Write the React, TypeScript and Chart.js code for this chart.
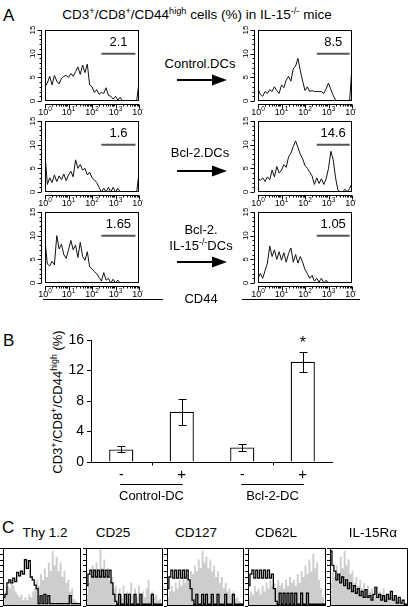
import React, { useEffect, useRef } from 'react';
import { Chart, registerables } from 'chart.js';

Chart.register(...registerables);

const FONT = '"Liberation Sans", Arial, Helvetica, sans-serif';

// ---------- Panel A data (CD44 histograms, x in log10 decades) ----------
const BIN_DECADES = [0, 0.1, 0.2, 0.3, 0.4, 0.5, 0.6, 0.7, 0.8, 0.9, 1, 1.1, 1.2, 1.3, 1.4, 1.5, 1.6, 1.7, 1.8, 1.9, 2, 2.1, 2.2, 2.3, 2.4, 2.5, 2.6, 2.7, 2.8, 2.9, 3, 3.1, 3.2, 3.3, 3.4, 3.5, 3.6, 3.7, 3.8, 3.9, 4];
const A_CONTROL_PRE = [3, 3.8, 5.2, 3.4, 5.4, 4.2, 3.6, 4.8, 5.2, 5.4, 5.0, 5.8, 5.2, 6.2, 7.2, 5.6, 7.6, 6.0, 7.8, 3.4, 3.0, 1.8, 2.4, 1.4, 1.8, 1.6, 2.8, 1.2, 1.0, 0.4, 1.0, 0.2, 0.8, 0, 0, 0, 0, 0, 0, 0, 4];
const A_CONTROL_POST = [2.6, 1.4, 1.0, 2.0, 1.6, 2.4, 2.0, 3.0, 2.2, 1.6, 3.4, 2.8, 4.4, 5.2, 4.2, 6.8, 7.4, 9.0, 6.4, 4.2, 2.2, 3.0, 2.0, 2.2, 2.0, 2.0, 2.0, 2.0, 1.6, 2.6, 3.8, 2.4, 1.2, 0.2, 0, 0, 0, 0, 0, 0, 7.4];
const A_BCL2_PRE = [8, 1.6, 3.0, 2.0, 3.6, 2.2, 3.4, 2.6, 3.8, 2.4, 3.6, 4.4, 3.2, 6.8, 5.0, 5.8, 4.6, 5.0, 3.6, 4.2, 3.0, 2.6, 2.0, 1.0, 0, 0.8, 0, 1.0, 0, 1.0, 0, 0.8, 0, 0, 0, 0, 0, 0, 0, 0, 4];
const A_BCL2_POST = [3.0, 2.4, 3.0, 2.2, 3.2, 2.6, 4.6, 3.2, 5.4, 4.0, 4.6, 5.8, 5.2, 7.4, 8.2, 9.6, 10.8, 9.4, 8.0, 7.0, 5.6, 5.0, 4.2, 3.4, 1.6, 3.0, 1.8, 2.8, 1.6, 2.8, 5.0, 8.6, 6.8, 3.0, 0.4, 0, 0, 0.6, 0, 0.8, 1.8];
const A_IL15KO_PRE = [9, 4.0, 3.6, 4.6, 3.8, 10, 7.2, 8.2, 6.0, 5.2, 7.0, 9.0, 7.0, 8.0, 5.4, 8.6, 5.6, 4.8, 6.6, 3.4, 3.0, 2.4, 2.0, 1.2, 0.4, 2.2, 0.6, 1.0, 0, 0.8, 0, 0.6, 0, 0, 0, 0, 0, 0, 0, 0, 0];
const A_IL15KO_POST = [1.0, 2.0, 1.0, 2.6, 4.2, 7.8, 5.6, 7.0, 5.0, 6.6, 4.8, 6.4, 4.4, 6.2, 7.4, 4.4, 6.0, 4.2, 5.6, 4.4, 2.8, 2.0, 1.0, 1.6, 0.4, 1.0, 0.2, 1.0, 0, 0.6, 0, 0, 0, 0, 0, 0, 0, 0, 0, 0, 0];
const A_GATE_LABELS = ['2.1', '8.5', '1.6', '14.6', '1.65', '1.05'];
const A_GATE_PRE = [2.4, 3.85];
const A_GATE_POST = [2.5, 3.9];
const A_GATE_Y = 10;
const A_Y_TICKS = [0, 5, 10, 15];
const A_X_DECADES = [0, 1, 2, 3, 4];
const A_TREATMENTS = ['Control.DCs', 'Bcl-2.DCs', 'Bcl-2.'];

// ---------- Panel B data ----------
const B_GROUPS = ['Control-DC', 'Bcl-2-DC'];
const B_CATEGORIES = ['-', '+', '-', '+'];
const B_MEANS = [1.65, 6.6, 1.9, 13.15];
const B_ERRORS = [0.4, 1.7, 0.48, 1.3];
const B_SIGNIFICANT = [false, false, false, true];
const B_Y_MAX = 16;
const B_Y_STEP = 4;

// ---------- Panel C data (relative counts, % of frame height) ----------
const C_MARKERS = ['Thy 1.2', 'CD25', 'CD127', 'CD62L', 'IL-15R\u03b1'];
const C_THY_BLACK = [15, 20, 40, 45, 40, 48, 42, 58, 52, 60, 55, 80, 65, 78, 50, 45, 36, 30, 4, 18, 4, 20, 4, 18, 4, 4, 4, 4, 4, 4, 4, 4, 4, 4, 18, 4, 4, 4, 4, 4, 4];
const C_THY_GRAY = [15, 25, 35, 30, 40, 35, 25, 20, 15, 20, 10, 15, 10, 20, 15, 25, 30, 45, 35, 55, 45, 65, 50, 75, 60, 95, 70, 85, 60, 75, 50, 60, 40, 45, 25, 30, 12, 8, 4, 2, 0];
const C_CD25_BLACK = [35, 55, 62, 50, 62, 50, 62, 50, 62, 50, 62, 50, 62, 40, 20, 8, 3, 20, 3, 3, 20, 3, 20, 3, 3, 20, 3, 3, 20, 3, 3, 3, 3, 3, 20, 3, 3, 3, 3, 3, 3];
const C_CD25_GRAY = [20, 40, 55, 70, 60, 75, 60, 100, 65, 80, 55, 65, 45, 50, 30, 35, 20, 30, 15, 35, 20, 25, 15, 40, 20, 30, 15, 35, 20, 25, 15, 30, 45, 20, 25, 15, 20, 10, 12, 5, 0];
const C_CD127_BLACK = [30, 50, 62, 48, 62, 48, 62, 48, 62, 48, 62, 45, 30, 10, 3, 20, 3, 3, 20, 3, 20, 3, 3, 20, 3, 3, 20, 3, 3, 3, 20, 3, 3, 3, 20, 3, 3, 3, 3, 3, 3];
const C_CD127_GRAY = [15, 25, 35, 25, 40, 30, 45, 35, 50, 40, 55, 45, 60, 55, 70, 60, 80, 65, 95, 75, 85, 65, 80, 60, 70, 50, 60, 40, 50, 30, 40, 25, 30, 20, 25, 12, 15, 8, 5, 2, 0];
const C_CD62L_BLACK = [35, 55, 62, 48, 62, 48, 62, 48, 62, 48, 62, 48, 55, 30, 8, 3, 22, 3, 22, 3, 22, 3, 22, 3, 22, 3, 3, 22, 3, 3, 22, 3, 3, 3, 3, 3, 3, 3, 3, 3, 3];
const C_CD62L_GRAY = [15, 25, 20, 35, 25, 30, 20, 35, 25, 40, 30, 45, 35, 40, 30, 45, 35, 40, 30, 45, 35, 50, 40, 45, 35, 55, 40, 60, 50, 70, 55, 80, 60, 90, 65, 75, 45, 30, 15, 5, 0];
const C_IL15RA_BLACK = [95, 70, 60, 45, 55, 40, 50, 35, 45, 30, 40, 25, 35, 22, 30, 18, 25, 15, 28, 15, 18, 10, 20, 32, 15, 20, 10, 18, 8, 20, 12, 25, 10, 18, 5, 15, 5, 10, 3, 3, 3];
const C_IL15RA_GRAY = [40, 60, 50, 70, 55, 85, 65, 95, 70, 80, 55, 60, 40, 50, 35, 45, 30, 40, 25, 35, 25, 30, 20, 30, 15, 25, 20, 30, 15, 20, 15, 20, 10, 15, 8, 10, 5, 5, 3, 2, 0];
const C_BLACK = [C_THY_BLACK, C_CD25_BLACK, C_CD127_BLACK, C_CD62L_BLACK, C_IL15RA_BLACK];
const C_GRAY = [C_THY_GRAY, C_CD25_GRAY, C_CD127_GRAY, C_CD62L_GRAY, C_IL15RA_GRAY];

// ---------- layout ----------
const A_ROW_TOPS = [30, 121, 212];
const A_BOX_H = 71;
const A_BOX_W = 94;
const A_COL_LEFT = [45, 258];
const C_BOXES = [[3, 81], [86, 163], [167, 244], [248, 326], [330, 408]];
const C_TOP = 548;
const C_BOTTOM = 606;

// ---------- plugins ----------
const facsPlugin = {
  id: 'facs',
  afterDraw(chart: any, _a: any, opts: any) {
    const { ctx, chartArea: a } = chart;
    const xs = chart.scales.x;
    const ys = chart.scales.y;
    ctx.save();
    ctx.strokeStyle = '#000';
    ctx.fillStyle = '#000';
    ctx.lineWidth = 1;
    const L = Math.round(a.left), T = Math.round(a.top), R = Math.round(a.right), B = Math.round(a.bottom);
    ctx.strokeRect(L + 0.5, T + 0.5, R - L - 1, B - T - 1);
    // y axis
    const ax = L - 3.5;
    ctx.beginPath();
    ctx.moveTo(ax, ys.getPixelForValue(ys.min));
    ctx.lineTo(ax, ys.getPixelForValue(ys.max));
    for (let v = ys.min; v <= ys.max; v += 1) {
      const py = Math.round(ys.getPixelForValue(v)) + 0.5;
      const major = A_Y_TICKS.includes(v);
      ctx.moveTo(ax, py);
      ctx.lineTo(ax - (major ? 4 : 2), py);
    }
    // x axis
    const by = B + 3.5;
    ctx.moveTo(xs.getPixelForValue(xs.min), by);
    ctx.lineTo(xs.getPixelForValue(xs.max), by);
    A_X_DECADES.forEach((d) => {
      const px = Math.round(xs.getPixelForValue(d)) + 0.5;
      ctx.moveTo(px, by);
      ctx.lineTo(px, by + 4);
      if (d < xs.max) {
        for (let m = 2; m <= 9; m++) {
          const pm = Math.round(xs.getPixelForValue(d + Math.log10(m))) + 0.5;
          ctx.moveTo(pm, by);
          ctx.lineTo(pm, by + 2);
        }
      }
    });
    ctx.stroke();
    // y labels (rotated)
    ctx.font = `8px ${FONT}`;
    ctx.textAlign = 'center';
    ctx.textBaseline = 'middle';
    A_Y_TICKS.forEach((v) => {
      ctx.save();
      ctx.translate(ax - 9, ys.getPixelForValue(v));
      ctx.rotate(-Math.PI / 2);
      ctx.fillText(String(v), 0, 0);
      ctx.restore();
    });
    // x labels 10^d
    ctx.textAlign = 'left';
    ctx.textBaseline = 'alphabetic';
    A_X_DECADES.forEach((d) => {
      const px = xs.getPixelForValue(d);
      ctx.font = `9px ${FONT}`;
      const w10 = ctx.measureText('10').width;
      ctx.font = `6.5px ${FONT}`;
      const ws = ctx.measureText(String(d)).width;
      const x0 = px - (w10 + ws) / 2;
      const base = B + 14;
      ctx.font = `9px ${FONT}`;
      ctx.fillText('10', x0, base);
      ctx.font = `6.5px ${FONT}`;
      ctx.fillText(String(d), x0 + w10, base - 4);
    });
    // gate label
    ctx.font = `13px ${FONT}`;
    ctx.textAlign = 'center';
    ctx.textBaseline = 'middle';
    const gx = (xs.getPixelForValue(opts.gate[0]) + xs.getPixelForValue(opts.gate[1])) / 2;
    ctx.fillText(opts.label, gx, ys.getPixelForValue(A_GATE_Y) - 11.5);
    ctx.restore();
  },
};

const cFramePlugin = {
  id: 'cframe',
  afterDraw(chart: any) {
    const { ctx, chartArea: a } = chart;
    const ys = chart.scales.y;
    ctx.save();
    ctx.strokeStyle = '#000';
    ctx.lineWidth = 1;
    const L = Math.round(a.left), T = Math.round(a.top), R = Math.round(a.right), B = Math.round(a.bottom);
    ctx.strokeRect(L + 0.5, T + 0.5, R - L - 1, B - T - 1);
    ctx.beginPath();
    for (let v = 0; v <= 100; v += 10) {
      const py = Math.round(ys.getPixelForValue(v)) + 0.5;
      ctx.moveTo(L, py);
      ctx.lineTo(L - 3, py);
    }
    ctx.stroke();
    ctx.restore();
  },
};

const barExtrasPlugin = {
  id: 'barExtras',
  afterDatasetsDraw(chart: any) {
    const { ctx, chartArea: a } = chart;
    const ys = chart.scales.y;
    const meta = chart.getDatasetMeta(0);
    ctx.save();
    ctx.strokeStyle = '#000';
    ctx.fillStyle = '#000';
    ctx.lineWidth = 1;
    const by = Math.round(a.bottom) + 0.5;
    ctx.beginPath();
    ctx.moveTo(a.left, by);
    ctx.lineTo(a.right, by);
    B_GROUPS.forEach((_g, gi) => {
      const cx = Math.round((meta.data[2 * gi].x + meta.data[2 * gi + 1].x) / 2) + 0.5;
      ctx.moveTo(cx, by);
      ctx.lineTo(cx, by + 3);
    });
    ctx.stroke();
    // error bars
    ctx.beginPath();
    B_MEANS.forEach((m, i) => {
      const x = Math.round(meta.data[i].x) + 0.5;
      const hi = Math.round(ys.getPixelForValue(m + B_ERRORS[i])) + 0.5;
      const lo = Math.round(ys.getPixelForValue(m - B_ERRORS[i])) + 0.5;
      ctx.moveTo(x, hi);
      ctx.lineTo(x, lo);
      ctx.moveTo(x - 4, hi);
      ctx.lineTo(x + 4, hi);
      ctx.moveTo(x - 4, lo);
      ctx.lineTo(x + 4, lo);
    });
    ctx.stroke();
    // significance star
    ctx.font = `16px ${FONT}`;
    ctx.textAlign = 'center';
    ctx.textBaseline = 'alphabetic';
    B_SIGNIFICANT.forEach((s, i) => {
      if (!s) return;
      ctx.fillText('*', meta.data[i].x, ys.getPixelForValue(B_MEANS[i] + B_ERRORS[i]) - 4);
    });
    // category labels
    ctx.textBaseline = 'middle';
    B_CATEGORIES.forEach((c, i) => {
      ctx.font = `${c === '+' ? 15 : 14}px ${FONT}`;
      ctx.fillText(c, meta.data[i].x, a.bottom + 13);
    });
    // group underline and names
    ctx.font = `13px ${FONT}`;
    B_GROUPS.forEach((g, gi) => {
      const x0 = meta.data[2 * gi].x - 1;
      const x1 = meta.data[2 * gi + 1].x + 1;
      ctx.beginPath();
      ctx.moveTo(x0, Math.round(a.bottom + 22) + 0.5);
      ctx.lineTo(x1, Math.round(a.bottom + 22) + 0.5);
      ctx.stroke();
      ctx.fillText(g, (x0 + x1) / 2, a.bottom + 34);
    });
    ctx.restore();
  },
};

// ---------- configs ----------
function histConfig(values: number[], gate: number[], label: string, pad: any) {
  return {
    type: 'line',
    data: {
      datasets: [
        {
          data: values.map((v, i) => ({ x: BIN_DECADES[i], y: v })),
          borderColor: '#111',
          borderWidth: 1,
          pointRadius: 0,
          tension: 0,
          fill: false,
        },
        {
          data: [{ x: gate[0], y: A_GATE_Y }, { x: gate[1], y: A_GATE_Y }],
          borderColor: '#555',
          borderWidth: 2,
          pointRadius: 0,
          fill: false,
        },
      ],
    },
    options: {
      responsive: false,
      animation: false,
      events: [],
      layout: { padding: pad },
      plugins: { legend: { display: false }, tooltip: { enabled: false }, facs: { gate, label } },
      scales: {
        x: { type: 'linear', min: 0, max: 4, display: false },
        y: { type: 'linear', min: 0, max: 15, display: false },
      },
    },
    plugins: [facsPlugin],
  };
}

function cConfig(black: number[], gray: number[], pad: any) {
  return {
    type: 'line',
    data: {
      datasets: [
        {
          data: black.map((v, i) => ({ x: BIN_DECADES[i], y: v })),
          borderColor: '#000',
          borderWidth: 1.3,
          pointRadius: 0,
          stepped: true,
          fill: false,
        },
        {
          data: gray.map((v, i) => ({ x: BIN_DECADES[i], y: v })),
          borderColor: '#cdcdcd',
          backgroundColor: '#cdcdcd',
          borderWidth: 0,
          pointRadius: 0,
          stepped: true,
          fill: 'origin',
        },
      ],
    },
    options: {
      responsive: false,
      animation: false,
      events: [],
      layout: { padding: pad },
      plugins: { legend: { display: false }, tooltip: { enabled: false } },
      scales: {
        x: { type: 'linear', min: 0, max: 4, display: false },
        y: { type: 'linear', min: 0, max: 100, display: false },
      },
    },
    plugins: [cFramePlugin],
  };
}

function barConfig() {
  return {
    type: 'bar',
    data: {
      labels: B_CATEGORIES,
      datasets: [
        {
          data: B_MEANS,
          backgroundColor: '#fff',
          borderColor: '#000',
          borderWidth: 1.3,
          barPercentage: 0.4,
          categoryPercentage: 1,
        },
      ],
    },
    options: {
      responsive: false,
      animation: false,
      events: [],
      layout: { padding: { left: 0, top: 15, right: 7, bottom: 43 } },
      plugins: { legend: { display: false }, tooltip: { enabled: false } },
      scales: {
        x: { display: false },
        y: {
          min: 0,
          max: B_Y_MAX,
          afterFit: (s: any) => {
            s.width = 51;
          },
          ticks: { stepSize: B_Y_STEP, color: '#000', font: { family: FONT, size: 14 }, padding: 3 },
          grid: { drawOnChartArea: false, drawTicks: true, tickLength: 4, color: '#000' },
          border: { display: true, color: '#000', width: 1 },
        },
      },
    },
    plugins: [barExtrasPlugin],
  };
}

// ---------- components ----------
function ChartCanvas({ left, top, width, height, make }: any) {
  const ref = useRef<HTMLCanvasElement>(null);
  useEffect(() => {
    const chart = new Chart(ref.current as any, make());
    return () => chart.destroy();
  }, []);
  return (
    <canvas
      ref={ref}
      width={width}
      height={height}
      style={{ position: 'absolute', left, top, width, height }}
    />
  );
}

function FacsHist({ left, top, values, gate, label }: any) {
  const pad = { left: 18, top: 7, right: 4, bottom: 17 };
  return (
    <ChartCanvas
      left={left - pad.left}
      top={top - pad.top}
      width={A_BOX_W + pad.left + pad.right}
      height={A_BOX_H + pad.top + pad.bottom}
      make={() => histConfig(values, gate, label, pad)}
    />
  );
}

function CHist({ box, black, gray }: any) {
  const pad = { left: 4, top: 1, right: 1, bottom: 1 };
  return (
    <ChartCanvas
      left={box[0] - pad.left}
      top={C_TOP - pad.top}
      width={box[1] - box[0] + pad.left + pad.right}
      height={C_BOTTOM - C_TOP + pad.top + pad.bottom}
      make={() => cConfig(black, gray, pad)}
    />
  );
}

const Sup = ({ children }: any) => (
  <span style={{ fontSize: '0.68em', position: 'relative', top: '-0.55em' }}>{children}</span>
);

function Txt({ x, y, size, children, anchor = 'middle' }: any) {
  return (
    <div
      style={{
        position: 'absolute',
        left: x,
        top: y,
        transform: `translate(${anchor === 'start' ? '0' : '-50%'}, -50%)`,
        fontSize: size,
        fontFamily: FONT,
        lineHeight: 1,
        whiteSpace: 'nowrap',
        color: '#000',
      }}
    >
      {children}
    </div>
  );
}

function Arrow({ y }: any) {
  return (
    <svg style={{ position: 'absolute', left: 175, top: y - 8 }} width={55} height={16}>
      <line x1={2} y1={8} x2={40} y2={8} stroke="#000" strokeWidth={2.2} />
      <polygon points="37,2.5 52,8 37,13.5" fill="#000" />
    </svg>
  );
}

const HLine = ({ x, y, w }: any) => (
  <div style={{ position: 'absolute', left: x, top: y, width: w, height: 1, background: '#000' }} />
);

export default function App() {
  const rows = [
    [A_CONTROL_PRE, A_CONTROL_POST],
    [A_BCL2_PRE, A_BCL2_POST],
    [A_IL15KO_PRE, A_IL15KO_POST],
  ];
  return (
    <div
      style={{
        position: 'fixed',
        left: 0,
        top: 0,
        width: 410,
        height: 607,
        background: '#fff',
        overflow: 'hidden',
        fontFamily: FONT,
        color: '#000',
      }}
    >
      <Txt x={3} y={15} size={17} anchor="start">A</Txt>
      <Txt x={197} y={15} size={13.5}>
        CD3<Sup>+</Sup>/CD8<Sup>+</Sup>/CD44<Sup>high</Sup> cells (%) in IL-15<Sup>-/-</Sup> mice
      </Txt>
      {rows.map((pair, r) => (
        <React.Fragment key={r}>
          <FacsHist left={A_COL_LEFT[0]} top={A_ROW_TOPS[r]} values={pair[0]} gate={A_GATE_PRE} label={A_GATE_LABELS[2 * r]} />
          <FacsHist left={A_COL_LEFT[1]} top={A_ROW_TOPS[r]} values={pair[1]} gate={A_GATE_POST} label={A_GATE_LABELS[2 * r + 1]} />
          <Arrow y={A_ROW_TOPS[r] + 50} />
        </React.Fragment>
      ))}
      <Txt x={200} y={63} size={13}>{A_TREATMENTS[0]}</Txt>
      <Txt x={200} y={152} size={13}>{A_TREATMENTS[1]}</Txt>
      <Txt x={201} y={229} size={13}>{A_TREATMENTS[2]}</Txt>
      <Txt x={201} y={245} size={13}>
        IL-15<Sup>-/-</Sup>DCs
      </Txt>
      <HLine x={43} y={299} w={120} />
      <HLine x={242} y={299} w={118} />
      <Txt x={201} y={298} size={13}>CD44</Txt>

      <Txt x={3} y={340} size={17} anchor="start">B</Txt>
      <div
        style={{
          position: 'absolute',
          left: 57,
          top: 402,
          transform: 'translate(-50%, -50%) rotate(-90deg)',
          fontSize: 13,
          lineHeight: 1,
          whiteSpace: 'nowrap',
        }}
      >
        CD3<Sup>+</Sup>/CD8<Sup>+</Sup>/CD44<Sup>high</Sup> (%)
      </div>
      <ChartCanvas left={40} top={325} width={300} height={180} make={barConfig} />

      <Txt x={2} y={527} size={17} anchor="start">C</Txt>
      {C_MARKERS.map((m, i) => (
        <React.Fragment key={m}>
          <Txt x={[45, 113, 196, 276, 373][i]} y={533} size={13.5}>{m}</Txt>
          <CHist box={C_BOXES[i]} black={C_BLACK[i]} gray={C_GRAY[i]} />
        </React.Fragment>
      ))}
    </div>
  );
}
